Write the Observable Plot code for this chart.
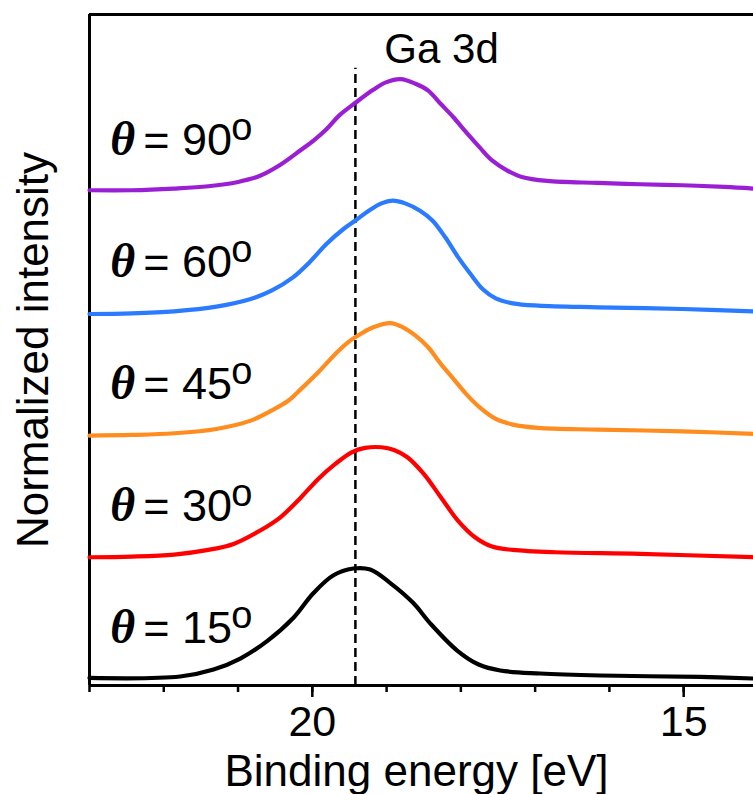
<!DOCTYPE html>
<html><head><meta charset="utf-8">
<script src="https://cdn.jsdelivr.net/npm/d3@7"></script>
<script src="https://cdn.jsdelivr.net/npm/@observablehq/plot@0.6"></script>
<style>html,body{margin:0;padding:0;background:#fff;overflow:hidden}</style>
</head><body><div id="chart"></div>
<script>
// Series identity
const angles = ["15", "30", "45", "60", "90"];
const colors = ["#000000", "#ff0000", "#ff8c1e", "#2a7bff", "#9a1fd4"];
const offsets = [0, 1.1, 2.2, 3.3, 4.4];

// Binding energy (eV) and normalized intensity
const energy15 = [23.0, 21.78, 21.33, 20.97, 20.60, 20.25, 19.99, 19.72, 19.45, 19.22, 18.95, 18.64, 18.41, 18.05, 17.76, 17.47, 16.93, 16.12, 14.78, 14.06];
const intensity15 = [0.005, 0.018, 0.081, 0.180, 0.342, 0.550, 0.766, 0.928, 0.991, 0.982, 0.860, 0.680, 0.495, 0.252, 0.126, 0.072, 0.045, 0.027, 0.014, 0.0];

const energy30 = [23.0, 22.43, 21.86, 21.40, 21.06, 20.72, 20.43, 20.15, 19.92, 19.69, 19.47, 19.29, 19.07, 18.90, 18.72, 18.50, 18.27, 18.04, 17.81, 17.58, 17.30, 16.73, 15.59, 14.06];
const intensity30 = [-0.007, -0.001, 0.017, 0.059, 0.113, 0.227, 0.353, 0.534, 0.699, 0.834, 0.939, 0.978, 0.984, 0.960, 0.894, 0.744, 0.534, 0.323, 0.173, 0.089, 0.059, 0.038, 0.023, -0.007];

const energy45 = [23.0, 22.43, 21.86, 21.29, 20.83, 20.55, 20.32, 20.15, 19.92, 19.69, 19.52, 19.35, 19.18, 18.95, 18.78, 18.61, 18.44, 18.27, 18.10, 17.93, 17.75, 17.53, 17.30, 16.96, 16.16, 15.02, 14.06];
const intensity45 = [-0.011, -0.005, 0.010, 0.049, 0.124, 0.214, 0.305, 0.410, 0.560, 0.725, 0.830, 0.905, 0.965, 1.002, 0.965, 0.890, 0.785, 0.635, 0.500, 0.365, 0.245, 0.139, 0.088, 0.058, 0.043, 0.028, 0.004];

const energy60 = [23.0, 22.43, 21.86, 21.29, 20.83, 20.55, 20.26, 20.04, 19.81, 19.58, 19.41, 19.24, 19.07, 18.92, 18.75, 18.55, 18.38, 18.21, 18.04, 17.87, 17.70, 17.53, 17.30, 16.96, 16.16, 15.02, 14.06];
const intensity60 = [-0.015, -0.009, 0.009, 0.051, 0.120, 0.195, 0.315, 0.450, 0.616, 0.751, 0.832, 0.916, 0.982, 1.006, 0.982, 0.916, 0.826, 0.676, 0.500, 0.345, 0.205, 0.125, 0.081, 0.060, 0.045, 0.030, 0.009];

const energy90 = [23.0, 22.43, 21.86, 21.40, 21.00, 20.72, 20.43, 20.15, 19.98, 19.81, 19.64, 19.41, 19.18, 19.01, 18.81, 18.61, 18.44, 18.27, 18.10, 17.93, 17.75, 17.58, 17.38, 17.18, 16.84, 16.16, 15.59, 15.02, 14.45, 14.06];
const intensity90 = [0.0, 0.0, 0.015, 0.036, 0.075, 0.126, 0.230, 0.365, 0.450, 0.550, 0.673, 0.793, 0.905, 0.972, 1.002, 0.960, 0.898, 0.778, 0.658, 0.524, 0.389, 0.269, 0.180, 0.120, 0.084, 0.066, 0.054, 0.045, 0.030, 0.015];

// Axis ticks and texts
const minorTicks = [23, 22, 21, 20, 19, 18, 17, 16, 15];
const majorTicks = [20, 15];
const peakEnergy = 19.42;
const title = "Ga 3d";
const xLabel = "Binding energy [eV]";
const yLabel = "Normalized intensity";

const energies = [energy15, energy30, energy45, energy60, energy90];
const intensities = [intensity15, intensity30, intensity45, intensity60, intensity90];

const rows = [];
angles.forEach((a, k) => {
  energies[k].forEach((e, i) => rows.push({angle: a, e, v: intensities[k][i] + offsets[k]}));
});
const labelRows = angles.map((a, k) => ({a, e: 22.6, v: offsets[k] + 0.32}));

const yMin = -0.063, yMax = 5.984;

const chart = Plot.plot({
  width: 753,
  height: 794,
  marginLeft: 89,
  marginRight: 0,
  marginTop: 14,
  marginBottom: 109,
  x: {domain: [23, 14.06]},
  y: {domain: [yMin, yMax], axis: null},
  color: {domain: angles, range: colors},
  style: {fontFamily: "'Liberation Sans', Arial, sans-serif", fontSize: "44px", color: "#000", background: "#fff"},
  marks: [
    Plot.ruleX([23], {strokeWidth: 3}),
    Plot.ruleY([yMax], {strokeWidth: 3}),
    Plot.ruleX([peakEnergy], {y1: yMin, y2: 5.5, strokeWidth: 2.5, strokeDasharray: "9,5"}),
    Plot.line(rows, {x: "e", y: "v", z: "angle", stroke: "angle", strokeWidth: 4.2, curve: "catmull-rom"}),
    Plot.ruleY([yMin], {strokeWidth: 3}),
    Plot.axisX({ticks: minorTicks, tickSize: 7, strokeWidth: 2.5, tickFormat: () => "", label: null}),
    Plot.axisX({ticks: majorTicks, tickSize: 12, tickPadding: 8, strokeWidth: 2.5, label: null, fontSize: 43}),
    Plot.text([xLabel], {frameAnchor: "bottom", dy: 100, dx: -5, lineAnchor: "bottom", fontSize: 44}),
    Plot.text([yLabel], {frameAnchor: "left", rotate: -90, dx: -42, lineAnchor: "bottom", textAnchor: "middle", fontSize: 44}),
    Plot.text([{t: title, e: 18.26, v: 5.55}], {x: "e", y: "v", text: "t", lineAnchor: "bottom", textAnchor: "middle", fontSize: 42}),
    Plot.text(labelRows, {x: "e", y: "v", text: () => "θ", fontFamily: "'Liberation Serif', serif", fontStyle: "italic", fontWeight: "bold", fontSize: 48, textAnchor: "start", lineAnchor: "bottom", dx: -9}),
    Plot.text(labelRows, {x: "e", y: "v", text: d => "= " + d.a, fontSize: 45, textAnchor: "start", lineAnchor: "bottom", dx: 24}),
    Plot.text(labelRows, {x: "e", y: "v", text: () => "o", fontSize: 38, textAnchor: "start", lineAnchor: "bottom", dx: 112, dy: -15})
  ]
});
document.getElementById("chart").appendChild(chart);
</script>
</body></html>
